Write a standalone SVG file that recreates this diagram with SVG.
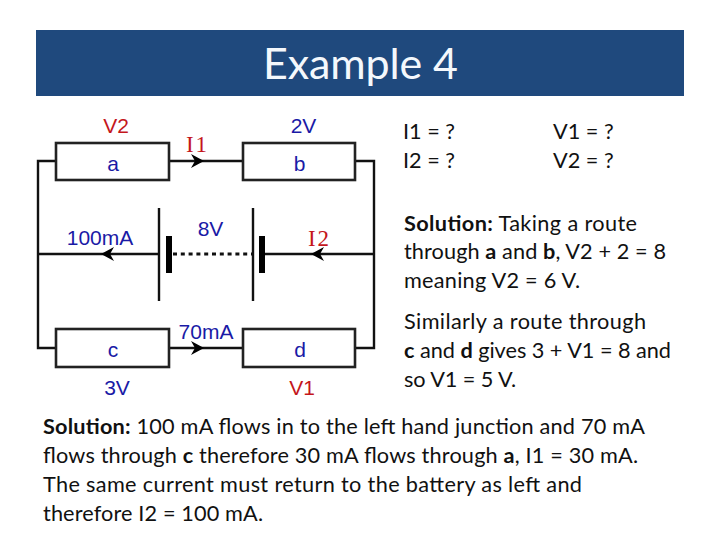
<svg xmlns="http://www.w3.org/2000/svg" width="720" height="540" viewBox="0 0 720 540">
<style>
.w{fill:none;stroke:#111;stroke-width:2.4}
.box{fill:#fff;stroke:#222;stroke-width:2.6}
.arrow{fill:#000;stroke:none}
text{font-family:"Liberation Sans",Arial,sans-serif}
.bl{font-size:21px;fill:#1a1aa6;text-anchor:middle}
.rd{font-size:21px;fill:#c4161c;text-anchor:middle}
.rs{font-family:"Liberation Serif",serif;font-size:23px;letter-spacing:2px;fill:#c4161c;text-anchor:middle}
.t{font-family:Lato,"Noto Sans",sans-serif;font-size:21.7px;fill:#111}
.t tspan.b{font-weight:700}
</style>
<rect width="720" height="540" fill="#fff"/>
<g id="title"><rect x="36" y="30" width="648" height="66" fill="#1f497d"/>
<text x="263" y="79" textLength="195" lengthAdjust="spacing" style="font-family:Lato,'Noto Sans',sans-serif;font-size:43px;font-weight:400;fill:#f4f8fc">Example 4</text></g>
<g id="connectors">
<path class="w" d="M56 161H38V348H56M169 161H243M355 161H374V348H355M169 348H243M159 254H38M262 254H374"/>
<path class="w" d="M159 208V301M253 208V301"/>
<path d="M173 254H252" fill="none" stroke="#111" stroke-width="3" stroke-dasharray="4 3.8"/>
<path class="arrow" d="M204 161L191 154L195 161L191 168Z"/>
<path class="arrow" d="M204 348L191 341L195 348L191 355Z"/>
<path class="arrow" d="M101 254L114 247L110 254L114 261Z"/>
<path class="arrow" d="M311 254L324 247L320 254L324 261Z"/>
</g>
<g id="battery">
<rect x="166" y="236" width="6" height="37" fill="#000"/>
<rect x="259" y="236" width="6" height="37" fill="#000"/>
<text class="bl" x="210.500" y="236">8V</text>
</g>
<g id="node-a"><rect class="box" x="56" y="143" width="113" height="37"/><text class="bl" x="113" y="171">a</text><text class="rd" x="116" y="133">V2</text></g>
<g id="node-b"><rect class="box" x="243" y="143" width="112" height="37"/><text class="bl" x="299.500" y="171">b</text><text class="bl" x="303.500" y="133">2V</text></g>
<g id="node-c"><rect class="box" x="56" y="329" width="113" height="38"/><text class="bl" x="113" y="357">c</text><text class="bl" x="117" y="395">3V</text></g>
<g id="node-d"><rect class="box" x="243" y="329" width="112" height="38"/><text class="bl" x="300" y="357">d</text><text class="rd" x="302" y="395">V1</text></g>
<g id="labels">
<text class="rs" x="197.500" y="152">I1</text>
<text class="rs" x="319.500" y="245.500">I2</text>
<text class="bl" x="100" y="245">100mA</text>
<text class="bl" x="206" y="339">70mA</text>
</g>
<g id="text" class="t">
<text class="t" x="403" y="139">I1 = ?</text>
<text class="t" x="403" y="168">I2 = ?</text>
<text class="t" x="553" y="139">V1 = ?</text>
<text class="t" x="553" y="168">V2 = ?</text>
<text class="t" x="404" y="231" textLength="233" lengthAdjust="spacing"><tspan class="b">Solution:</tspan> Taking a route</text>
<text class="t" x="404" y="259" textLength="262" lengthAdjust="spacing">through <tspan class="b">a</tspan> and <tspan class="b">b</tspan>, V2 + 2 = 8</text>
<text class="t" x="404" y="288" textLength="176" lengthAdjust="spacing">meaning V2 = 6 V.</text>
<text class="t" x="404" y="329" textLength="242" lengthAdjust="spacing">Similarly a route through</text>
<text class="t" x="404" y="358" textLength="267" lengthAdjust="spacing"><tspan class="b">c</tspan> and <tspan class="b">d</tspan> gives 3 + V1 = 8 and</text>
<text class="t" x="404" y="387" textLength="112" lengthAdjust="spacing">so V1 = 5 V.</text>
<text class="t" x="43" y="434" textLength="602" lengthAdjust="spacing"><tspan class="b">Solution:</tspan> 100 mA flows in to the left hand junction and 70 mA</text>
<text class="t" x="43" y="463" textLength="595" lengthAdjust="spacing">flows through <tspan class="b">c</tspan> therefore 30 mA flows through <tspan class="b">a</tspan>, I1 = 30 mA.</text>
<text class="t" x="43" y="492" textLength="539" lengthAdjust="spacing">The same current must return to the battery as left and</text>
<text class="t" x="43" y="521" textLength="220" lengthAdjust="spacing">therefore I2 = 100 mA.</text>
</g>
</svg>
